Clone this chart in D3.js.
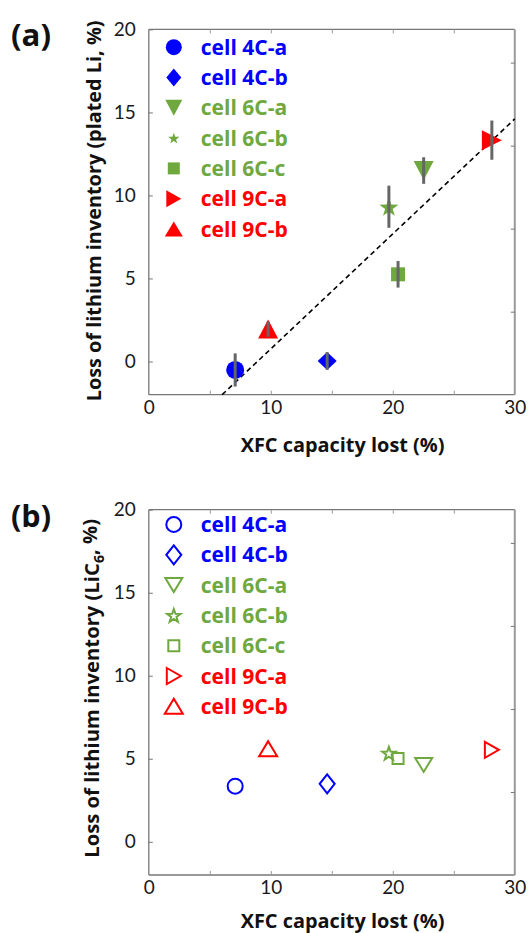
<!DOCTYPE html>
<html>
<head>
<meta charset="utf-8">
<script src="https://cdn.jsdelivr.net/npm/d3@7"></script>
<style>
  body { margin: 0; background: #fff; }
  text { font-family: Lato, "Open Sans", sans-serif; }
  .heavy { font-family: "Open Sans", Lato, sans-serif; font-weight: bold; }
</style>
</head>
<body>
<div id="chart"></div>
<script>
// cells and values
let cells = ['cell 4C-a', 'cell 4C-b', 'cell 6C-a', 'cell 6C-b', 'cell 6C-c', 'cell 9C-a', 'cell 9C-b'];
let rates = ['4C', '4C', '6C', '6C', '6C', '9C', '9C'];
let capacityLost = [7.08, 14.62, 22.53, 19.68, 20.43, 28.12, 9.78];
let platedLi = [-0.51, 0.03, 11.5, 9.32, 5.25, 13.33, 1.95];
let platedLiErr = [1.0, 0.53, 0.8, 1.27, 0.8, 1.18, 0.46];
let lic6 = [3.35, 3.49, 4.63, 5.34, 5.02, 5.54, 5.6];

// linear fit drawn in panel (a)
let fitSlope = 0.6925;
let fitIntercept = -6.165;

// axis ticks
let xTicks = [0, 10, 20, 30];
let xMinorTicks = [5, 10, 15, 20, 25];
let yTicks = [0, 5, 10, 15, 20];
let yRightTicks = [3, 8, 13, 18];

// styles
let rateColor = d3.scaleOrdinal().domain(['4C', '6C', '9C']).range(['#0000ff', '#70a840', '#ff0000']);
let markerShape = ['circle', 'diamond', 'down', 'star', 'square', 'right', 'up'];
let legendSizeA = [[16, 16], [15, 18], [17, 16], [12, 12], [12, 12], [15, 17], [18, 15]];
let dataSizeA = [[18, 18], [19, 18], [20, 19], [20, 20], [14, 14], [20, 20], [20, 19]];
let sizeB = [[15, 15], [15, 19], [17, 14], [14, 14], [11, 11], [14, 16], [18, 15]];

let width = 529, height = 933;
let margin = { left: 148.8, right: 14.2 };
let plotW = width - margin.left - margin.right;
let plotH = 365.3;

let svg = d3.select('#chart').append('svg')
    .attr('width', width)
    .attr('height', height);

let x = d3.scaleLinear().domain([0, 30]).range([0, plotW]);
let y = d3.scaleLinear().domain([-2, 20]).range([plotH, 0]);

// scale a text's font size so it spans the given length
function fitText(t, len) {
    let fs = parseFloat(t.attr('font-size'));
    let w = t.node().getComputedTextLength();
    if (w > 0) t.attr('font-size', fs * len / w);
}

// marker outline in local coords, w/h = full width/height
function markerPath(shape, w, h) {
    let a = w / 2, b = h / 2;
    if (shape === 'circle') {
        return `M${a},0A${a},${a} 0 1,1 ${-a},0A${a},${a} 0 1,1 ${a},0Z`;
    } else if (shape === 'diamond') {
        return `M0,${-b}L${a},0L0,${b}L${-a},0Z`;
    } else if (shape === 'down') {
        return `M${-a},${-b}L${a},${-b}L0,${b}Z`;
    } else if (shape === 'up') {
        return `M${-a},${b}L${a},${b}L0,${-b}Z`;
    } else if (shape === 'right') {
        return `M${-a},${-b}L${a},0L${-a},${b}Z`;
    } else if (shape === 'square') {
        return `M${-a},${-b}H${a}V${b}H${-a}Z`;
    } else if (shape === 'star') {
        let pts = [];
        for (let k = 0; k < 10; k++) {
            let r = k % 2 === 0 ? a : a * 0.4;
            let ang = -Math.PI / 2 + k * Math.PI / 5;
            pts.push([r * Math.cos(ang), r * Math.sin(ang) + a * 0.1]);
        }
        return 'M' + pts.map(p => p.join(',')).join('L') + 'Z';
    }
}

function drawPanel(top, opts) {
    let g = svg.append('g').attr('transform', `translate(${margin.left},${top})`);

    // frame
    g.append('line').attr('x1', 0).attr('x2', 0).attr('y1', 0).attr('y2', plotH)
        .attr('stroke', '#777').attr('stroke-width', 1.3);
    g.append('line').attr('x1', 0).attr('x2', plotW).attr('y1', plotH).attr('y2', plotH)
        .attr('stroke', '#777').attr('stroke-width', 1.3);
    g.append('line').attr('x1', 0).attr('x2', plotW).attr('y1', 0).attr('y2', 0)
        .attr('stroke', '#777').attr('stroke-width', 1.3);
    g.append('line').attr('x1', plotW).attr('x2', plotW).attr('y1', 0).attr('y2', plotH)
        .attr('stroke', '#9a9a9a').attr('stroke-width', 2);

    // inward ticks
    let yAxis = d3.axisLeft(y).tickValues(yTicks).tickSizeInner(-4).tickSizeOuter(0).tickPadding(13);
    let ya = g.append('g').call(yAxis);
    let xAxis = d3.axisBottom(x).tickValues(xTicks).tickSizeInner(0).tickSizeOuter(0).tickPadding(6);
    let xa = g.append('g').attr('transform', `translate(0,${plotH})`).call(xAxis);
    [ya, xa].forEach(a => {
        a.select('.domain').remove();
        a.selectAll('.tick line').attr('stroke', '#777');
        a.selectAll('text').attr('font-size', 19).attr('fill', '#1a1a1a');
    });
    g.append('g').attr('transform', `translate(0,${plotH})`)
        .call(d3.axisBottom(x).tickValues(xMinorTicks).tickSizeInner(-4).tickSizeOuter(0).tickFormat(''))
        .call(s => s.select('.domain').remove())
        .selectAll('line').attr('stroke', '#999');
    g.append('g')
        .call(d3.axisTop(x).tickValues(xMinorTicks).tickSizeInner(-4).tickSizeOuter(0).tickFormat(''))
        .call(s => s.select('.domain').remove())
        .selectAll('line').attr('stroke', '#999');
    g.append('g').attr('transform', `translate(${plotW},0)`)
        .call(d3.axisRight(y).tickValues(yRightTicks).tickSizeInner(-4).tickSizeOuter(0).tickFormat(''))
        .call(s => s.select('.domain').remove())
        .selectAll('line').attr('stroke', '#777');

    // fit line
    if (opts.fit) {
        let x0 = (y.domain()[0] - fitIntercept) / fitSlope;
        let x1 = 30;
        g.append('line')
            .attr('x1', x(x0)).attr('y1', y(fitSlope * x0 + fitIntercept))
            .attr('x2', x(x1)).attr('y2', y(fitSlope * x1 + fitIntercept))
            .attr('stroke', '#000').attr('stroke-width', 1.6)
            .attr('stroke-dasharray', '5,3.5');
    }

    // points
    let vals = opts.values;
    g.selectAll('.pt').data(cells).enter().append('path')
        .attr('class', 'pt')
        .attr('transform', (d, i) => `translate(${x(capacityLost[i])},${y(vals[i])})`)
        .attr('d', (d, i) => markerPath(markerShape[i], opts.dataSize[i][0], opts.dataSize[i][1]))
        .attr('fill', (d, i) => opts.filled ? rateColor(rates[i]) : 'none')
        .attr('stroke', (d, i) => opts.filled ? 'none' : rateColor(rates[i]))
        .attr('stroke-width', 2);

    // error bars
    if (opts.err) {
        g.selectAll('.err').data(cells).enter().append('line')
            .attr('x1', (d, i) => x(capacityLost[i])).attr('x2', (d, i) => x(capacityLost[i]))
            .attr('y1', (d, i) => y(vals[i] - opts.err[i]))
            .attr('y2', (d, i) => y(vals[i] + opts.err[i]))
            .attr('stroke', '#666').attr('stroke-width', 3);
    }

    // legend
    let leg = g.selectAll('.leg').data(cells).enter().append('g')
        .attr('transform', (d, i) => `translate(25,${opts.legendTop + i * 30.3})`);
    leg.append('path')
        .attr('d', (d, i) => markerPath(markerShape[i], opts.legendSize[i][0], opts.legendSize[i][1]))
        .attr('fill', (d, i) => opts.filled ? rateColor(rates[i]) : 'none')
        .attr('stroke', (d, i) => opts.filled ? 'none' : rateColor(rates[i]))
        .attr('stroke-width', 2);
    leg.append('text')
        .attr('class', 'heavy')
        .attr('x', 27).attr('y', 7.5)
        .attr('font-size', 21)
        .attr('fill', (d, i) => rateColor(rates[i]))
        .text(d => d);

    // panel letter
    let letter = svg.append('text').attr('class', 'heavy')
        .attr('x', 11).attr('y', top + 17)
        .attr('font-size', 30).attr('fill', '#111')
        .text(opts.letter);
    fitText(letter, 40);

    // x label
    let xl = svg.append('text').attr('class', 'heavy')
        .attr('x', 342.6).attr('y', top + opts.xLabelY)
        .attr('text-anchor', 'middle').attr('font-size', 18).attr('fill', '#111')
        .text('XFC capacity lost (%)');
    fitText(xl, 204);

    // y label
    let yl = svg.append('text').attr('class', 'heavy')
        .attr('transform', `translate(${opts.yLabelX},${top + opts.yLabelMid}) rotate(-90)`)
        .attr('text-anchor', 'middle').attr('font-size', 18).attr('fill', '#111');
    opts.yLabel(yl);
    fitText(yl, opts.yLabelLen);
}

drawPanel(29.4, {
    letter: '(a)', values: platedLi, err: platedLiErr, fit: true, filled: true,
    dataSize: dataSizeA, legendSize: legendSizeA, legendTop: 17.8,
    xLabelY: 422.6,
    yLabelX: 100.5, yLabelMid: 181.5, yLabelLen: 381,
    yLabel: t => t.text('Loss of lithium inventory (plated Li, %)')
});

drawPanel(509.7, {
    letter: '(b)', values: lic6, err: null, fit: false, filled: false,
    dataSize: sizeB, legendSize: sizeB, legendTop: 14.8,
    xLabelY: 418,
    yLabelX: 98.9, yLabelMid: 178.6, yLabelLen: 339,
    yLabel: t => {
        t.append('tspan').text('Loss of lithium inventory (LiC');
        t.append('tspan').attr('font-size', '0.7em').attr('dy', '0.35em').text('6');
        t.append('tspan').attr('dy', '-0.35em').text(', %)');
    }
});
</script>
</body>
</html>
